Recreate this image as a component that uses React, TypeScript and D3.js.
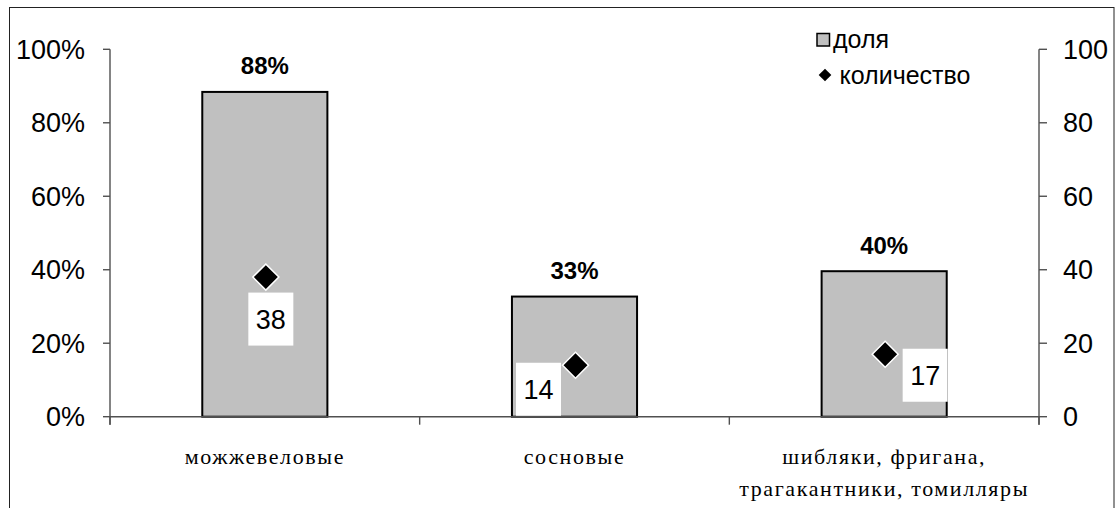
import React from 'react';
import * as d3 from 'd3';

const categories = ['можжевеловые', 'сосновые', 'шибляки, фригана,|трагакантники, томилляры'];
const shareValues = [0.884, 0.327, 0.396];
const shareLabels = ['88%', '33%', '40%'];
const countValues = [38, 14, 17];
const leftTicks = [0, 0.2, 0.4, 0.6, 0.8, 1];
const rightTicks = [0, 20, 40, 60, 80, 100];
const legendLabels = ['доля', 'количество'];

const W = 1119;
const H = 508;
const plot = { left: 110, right: 1039, top: 49.3, bottom: 416.7 };
const countLabelOffsets = [
  [5, 42],
  [-37, 24],
  [40, 21],
];

const SANS = '"Liberation Sans", Arial, sans-serif';
const SERIF = '"Liberation Serif", "Times New Roman", serif';
const AXIS = '#505050';

export default function App() {
  const x = d3
    .scaleBand<string>()
    .domain(categories)
    .range([plot.left, plot.right])
    .paddingInner(0.596)
    .paddingOuter(0.298);
  const step = x.step();
  const center = (c: string) => (x(c) as number) + x.bandwidth() / 2;
  const yL = d3.scaleLinear().domain([0, 1]).range([plot.bottom, plot.top]);
  const yR = d3.scaleLinear().domain([0, 100]).range([plot.bottom, plot.top]);
  const fmtPct = d3.format('.0%');
  const diamond = d3.symbol(d3.symbolSquare, 338)() as string;
  const legendDiamond = d3.symbol(d3.symbolSquare, 80)() as string;
  const boundaries = d3.range(categories.length + 1).map((i) => plot.left + i * step);

  return (
    <svg
      width={W}
      height={H}
      style={{ position: 'absolute', left: 0, top: 0, background: '#fff' }}
    >
      <rect x={9.5} y={7.5} width={1104.5} height={520} fill="#fff" stroke="#222" strokeWidth={1} />

      {/* bars */}
      {categories.map((c, i) => (
        <rect
          key={c}
          x={x(c)}
          y={yL(shareValues[i])}
          width={x.bandwidth()}
          height={plot.bottom - yL(shareValues[i])}
          fill="#c0c0c0"
          stroke="#000"
          strokeWidth={2}
        />
      ))}

      {/* axes */}
      <g stroke={AXIS} strokeWidth={1.4} fill="none">
        <line x1={plot.left} x2={plot.left} y1={plot.top} y2={plot.bottom + 8} />
        <line x1={plot.right} x2={plot.right} y1={plot.top} y2={plot.bottom + 8} />
        <line x1={plot.left} x2={plot.right} y1={plot.bottom} y2={plot.bottom} />
        {leftTicks.map((t) => (
          <line key={'l' + t} x1={plot.left - 7} x2={plot.left} y1={yL(t)} y2={yL(t)} />
        ))}
        {rightTicks.map((t) => (
          <line key={'r' + t} x1={plot.right} x2={plot.right + 8} y1={yR(t)} y2={yR(t)} />
        ))}
        {boundaries.map((b) => (
          <line key={'b' + b} x1={b} x2={b} y1={plot.bottom} y2={plot.bottom + 8} />
        ))}
      </g>

      {/* tick labels */}
      <g fontFamily={SANS} fontSize={27} fill="#000">
        {leftTicks.map((t) => (
          <text key={'lt' + t} x={85} y={yL(t) + 9.7} textAnchor="end">
            {fmtPct(t)}
          </text>
        ))}
        {rightTicks.map((t) => (
          <text key={'rt' + t} x={1063} y={yR(t) + 9.7} textAnchor="start">
            {t}
          </text>
        ))}
      </g>

      {/* bar labels */}
      <g fontFamily={SANS} fontSize={24} fontWeight="bold" fill="#000">
        {categories.map((c, i) => (
          <text key={'bl' + c} x={center(c)} y={yL(shareValues[i]) - 17.5} textAnchor="middle">
            {shareLabels[i]}
          </text>
        ))}
      </g>

      {/* count markers and labels */}
      {categories.map((c, i) => {
        const cx = center(c) + 1;
        const cy = yR(countValues[i]);
        const [dx, dy] = countLabelOffsets[i];
        return (
          <g key={'cm' + c}>
            <path
              d={diamond}
              transform={`translate(${cx},${cy}) rotate(45)`}
              fill="#000"
              stroke="#fff"
              strokeWidth={1.5}
            />
            <rect x={cx + dx - 22.5} y={cy + dy - 26.5} width={45} height={53} fill="#fff" />
            <text
              x={cx + dx}
              y={cy + dy + 9.7}
              textAnchor="middle"
              fontFamily={SANS}
              fontSize={27}
              fill="#000"
            >
              {countValues[i]}
            </text>
          </g>
        );
      })}

      {/* category labels */}
      <g fontFamily={SERIF} fontSize={22} letterSpacing={1.6} fill="#000">
        {categories.map((c) =>
          c.split('|').map((line, j) => (
            <text key={c + j} x={center(c)} y={464.3 + j * 31.5} textAnchor="middle">
              {line}
            </text>
          ))
        )}
      </g>

      {/* legend */}
      <g fontFamily={SANS} fontSize={25} fill="#000">
        <rect x={817} y={33.5} width={12.5} height={12.5} fill="#c0c0c0" stroke="#000" strokeWidth={1.5} />
        <text x={833} y={47.7}>
          {legendLabels[0]}
        </text>
        <path d={legendDiamond} transform="translate(825,75) rotate(45)" fill="#000" />
        <text x={839.5} y={83.5}>
          {legendLabels[1]}
        </text>
      </g>
    </svg>
  );
}
